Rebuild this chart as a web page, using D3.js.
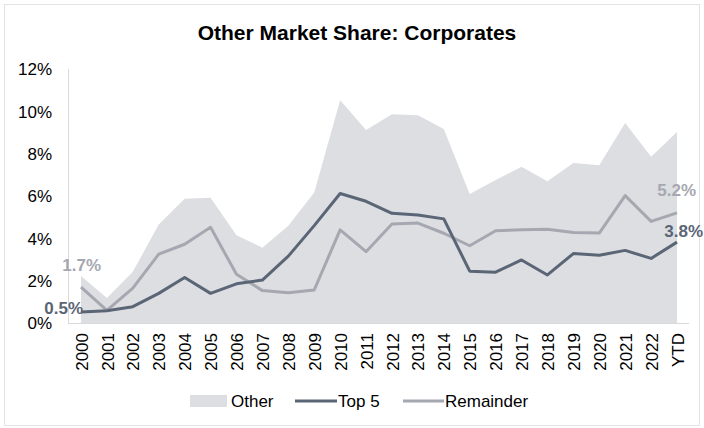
<!DOCTYPE html>
<html><head><meta charset="utf-8">
<script src="https://cdn.jsdelivr.net/npm/d3@7"></script>
<style>
html,body{margin:0;padding:0;background:#fff;}
svg{display:block;font-family:"Liberation Sans",Arial,sans-serif;}
</style></head>
<body><svg id="c" width="704" height="428"></svg>
<script>
const years = ["2000","2001","2002","2003","2004","2005","2006","2007","2008","2009","2010","2011","2012","2013","2014","2015","2016","2017","2018","2019","2020","2021","2022","YTD"];
const other = [2.22,1.18,2.42,4.65,5.87,5.92,4.15,3.56,4.59,6.16,10.52,9.12,9.86,9.82,9.16,6.1,6.76,7.38,6.7,7.56,7.45,9.45,7.85,9.02];
const top5 = [0.52,0.58,0.77,1.4,2.15,1.4,1.85,2.03,3.16,4.6,6.12,5.75,5.18,5.1,4.92,2.45,2.4,2.98,2.27,3.28,3.2,3.43,3.05,3.82];
const remainder = [1.7,0.6,1.65,3.25,3.72,4.52,2.3,1.53,1.43,1.56,4.4,3.37,4.68,4.72,4.24,3.65,4.36,4.4,4.43,4.28,4.25,6.02,4.8,5.2];
const yTicks = [0,2,4,6,8,10,12];
const title = "Other Market Share: Corporates";
const legendNames = ["Other","Top 5","Remainder"];

const cArea = "#dcdee2", cTop = "#5a6576", cRem = "#a6a8b1", cAxis = "#d9d9d9";
const svg = d3.select("#c");

svg.append("rect").attr("x",4.5).attr("y",4.5).attr("width",695).attr("height",421)
  .attr("fill","none").attr("stroke","#e3e3e3").attr("stroke-width",1);

svg.append("text").attr("x",357).attr("y",40).attr("text-anchor","middle")
  .attr("font-size",21).attr("font-weight","bold").attr("fill","#000").text(title);

const x = d3.scalePoint().domain(years).range([81,677]);
const y = d3.scaleLinear().domain([0,12]).range([323,69]);

// area
svg.append("path").datum(other)
  .attr("d", d3.area().x((d,i)=>x(years[i])).y0(y(0)).y1(d=>y(d)))
  .attr("fill", cArea);

// axes
svg.append("line").attr("x1",68.5).attr("x2",68.5).attr("y1",y(12)).attr("y2",y(0)).attr("stroke",cAxis);
svg.append("line").attr("x1",68).attr("x2",689).attr("y1",323.5).attr("y2",323.5).attr("stroke",cAxis);

const yAxis = d3.axisLeft(y).tickValues(yTicks).tickFormat(d=>d+"%").tickSize(0).tickPadding(0);
const gy = svg.append("g").attr("transform","translate(52,0)").call(yAxis);
gy.select(".domain").remove();
gy.selectAll("text").attr("font-size",17).attr("fill","#000").attr("font-family","Liberation Sans, Arial, sans-serif").attr("dy","0.35em");

const xAxis = d3.axisBottom(x).tickSize(0).tickPadding(0);
const gx = svg.append("g").attr("transform","translate(0,333)").call(xAxis);
gx.select(".domain").remove();
gx.selectAll("text").attr("font-size",17).attr("fill","#000").attr("font-family","Liberation Sans, Arial, sans-serif")
  .attr("text-anchor","end").attr("transform","rotate(-90)").attr("x",0).attr("y",0).attr("dy","0.36em");

// lines
const line = d3.line().x((d,i)=>x(years[i])).y(d=>y(d));
svg.append("path").datum(remainder).attr("d",line).attr("fill","none").attr("stroke",cRem).attr("stroke-width",3).attr("stroke-linejoin","round");
svg.append("path").datum(top5).attr("d",line).attr("fill","none").attr("stroke",cTop).attr("stroke-width",3).attr("stroke-linejoin","round");

// data labels
const n = years.length-1;
function lab(txt, xx, yy, col, anchor){
  svg.append("text").attr("x",xx).attr("y",yy).attr("text-anchor",anchor).attr("font-size",17)
    .attr("font-weight","bold").attr("fill",col).text(txt);
}
lab(d3.format(".1f")(remainder[0])+"%", x(years[0])+20, y(remainder[0])-16, cRem, "end");
lab(d3.format(".1f")(top5[0])+"%", x(years[0])+2, y(top5[0])+2, cTop, "end");
lab(d3.format(".1f")(remainder[n])+"%", x(years[n])+19, y(remainder[n])-17, cRem, "end");
lab(d3.format(".1f")(top5[n])+"%", x(years[n])+26, y(top5[n])-5, cTop, "end");

// legend
const ly = 401;
const lg = svg.append("g").attr("font-size",17).attr("fill","#000");
lg.append("rect").attr("x",190).attr("y",ly-6).attr("width",37).attr("height",12).attr("fill",cArea);
lg.append("text").attr("x",231).attr("y",ly).attr("dy","0.35em").text(legendNames[0]);
lg.append("line").attr("x1",295).attr("x2",337).attr("y1",ly).attr("y2",ly).attr("stroke",cTop).attr("stroke-width",3);
lg.append("text").attr("x",338).attr("y",ly).attr("dy","0.35em").text(legendNames[1]);
lg.append("line").attr("x1",403).attr("x2",444).attr("y1",ly).attr("y2",ly).attr("stroke",cRem).attr("stroke-width",3);
lg.append("text").attr("x",445).attr("y",ly).attr("dy","0.35em").text(legendNames[2]);
</script></body></html>
